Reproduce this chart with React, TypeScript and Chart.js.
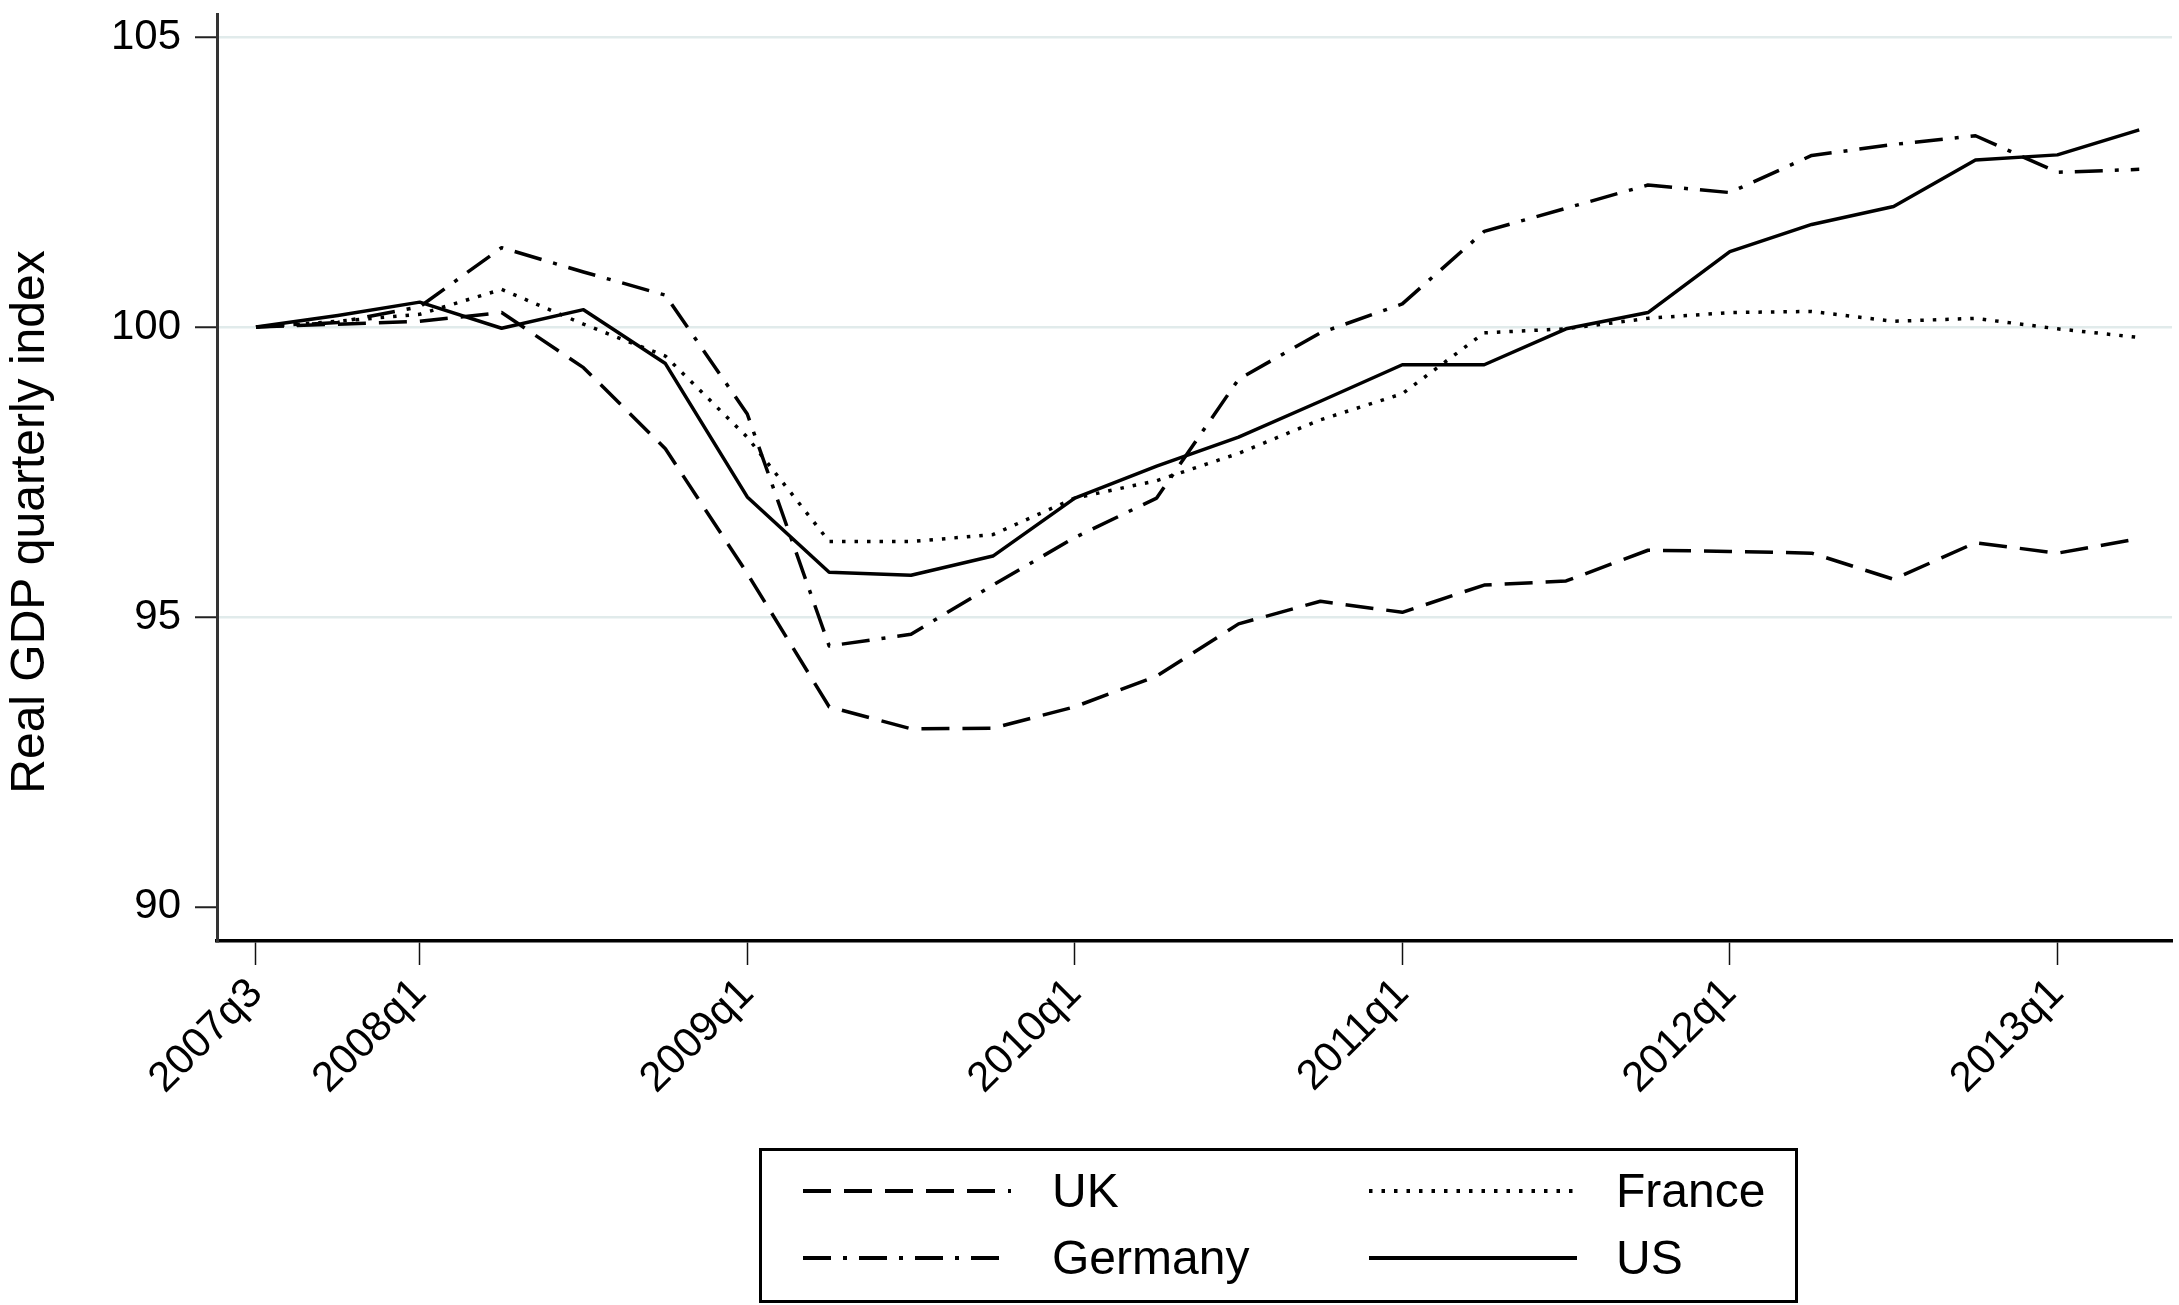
import React, { useEffect, useRef } from 'react';
import { Chart, registerables } from 'chart.js';

Chart.register(...registerables);

// ---------- data ----------
const quarters = [
  '2007q3', '2007q4', '2008q1', '2008q2', '2008q3', '2008q4',
  '2009q1', '2009q2', '2009q3', '2009q4', '2010q1', '2010q2',
  '2010q3', '2010q4', '2011q1', '2011q2', '2011q3', '2011q4',
  '2012q1', '2012q2', '2012q3', '2012q4', '2013q1', '2013q2',
];
const xTickLabels = ['2007q3', '2008q1', '2009q1', '2010q1', '2011q1', '2012q1', '2013q1'];
const yTickValues = [90, 95, 100, 105];

const ukValues = [
  100, 100.05, 100.1, 100.25, 99.3, 97.9,
  95.75, 93.45, 93.07, 93.08, 93.45, 93.98,
  94.88, 95.27, 95.08, 95.55, 95.62, 96.15,
  96.13, 96.1, 95.65, 96.28, 96.1, 96.35,
];
const germanyValues = [
  100, 100.08, 100.35, 101.37, 100.95, 100.55,
  98.5, 94.5, 94.7, 95.55, 96.37, 97.05,
  99.1, 99.9, 100.4, 101.65, 102.05, 102.45,
  102.32, 102.96, 103.15, 103.3, 102.67, 102.72,
];
const franceValues = [
  100, 100.1, 100.22, 100.65, 100.05, 99.5,
  98.1, 96.3, 96.3, 96.42, 97.05, 97.35,
  97.82, 98.4, 98.85, 99.9, 99.97, 100.15,
  100.25, 100.27, 100.1, 100.15, 99.97, 99.82,
];
const usValues = [
  100, 100.2, 100.43, 99.98, 100.3, 99.37,
  97.07, 95.77, 95.72, 96.05, 97.05, 97.6,
  98.1, 98.72, 99.35, 99.35, 99.97, 100.25,
  101.3, 101.77, 102.08, 102.88, 102.97, 103.4,
];

const yAxisTitle = 'Real GDP quarterly index';

// ---------- styles ----------
const FONT = '"Liberation Sans", Arial, Helvetica, sans-serif';
const W = 2179;
const H = 1305;
const AXIS_LEFT = 217;
const AXIS_BOTTOM = 941;
const PLOT_TOP = 14;
const PLOT_RIGHT = 2172;

const DASH_UK = [28, 13];
const DASH_DE = [28, 12, 4, 12];
const DASH_FR = [3.5, 9];
const DASH_US: number[] = [];
const LINE_W = 3.5;

const series = [
  { name: 'UK', values: ukValues, dash: DASH_UK },
  { name: 'Germany', values: germanyValues, dash: DASH_DE },
  { name: 'France', values: franceValues, dash: DASH_FR },
  { name: 'US', values: usValues, dash: DASH_US },
];

const legendLayout = [
  { name: 'UK', sx: 803, tx: 1052, cy: 1191 },
  { name: 'France', sx: 1369, tx: 1616, cy: 1191 },
  { name: 'Germany', sx: 803, tx: 1052, cy: 1258 },
  { name: 'US', sx: 1369, tx: 1616, cy: 1258 },
];

export default function App() {
  const canvasRef = useRef<HTMLCanvasElement | null>(null);

  useEffect(() => {
    const canvas = canvasRef.current;
    if (!canvas) return;
    const chart = new Chart(canvas, {
      type: 'line',
      data: {
        datasets: series.map((s) => ({
          label: s.name,
          data: s.values.map((v, i) => ({ x: i, y: v })),
          borderColor: '#000',
          borderWidth: LINE_W,
          borderDash: s.dash,
          borderCapStyle: 'butt',
          borderJoinStyle: 'round',
          pointRadius: 0,
          tension: 0,
          fill: false,
        })),
      },
      options: {
        responsive: false,
        animation: false,
        devicePixelRatio: 1,
        layout: { padding: { top: PLOT_TOP, right: W - PLOT_RIGHT, left: 0, bottom: 0 } },
        plugins: {
          legend: { display: false },
          tooltip: { enabled: false },
          title: { display: false },
        },
        scales: {
          x: {
            type: 'linear',
            min: -0.476,
            max: 23.4,
            afterBuildTicks: (scale: any) => {
              scale.ticks = xTickLabels.map((l) => ({ value: quarters.indexOf(l) }));
            },
            afterFit: (scale: any) => {
              scale.height = H - AXIS_BOTTOM;
              scale.paddingLeft = 0;
              scale.paddingRight = 0;
            },
            border: { display: true, color: '#000', width: 3.5 },
            grid: {
              drawOnChartArea: false,
              drawTicks: true,
              tickLength: 24,
              tickColor: '#111',
              tickWidth: 1.5,
            },
            ticks: {
              autoSkip: false,
              maxRotation: 45,
              minRotation: 45,
              padding: 4,
              color: '#000',
              font: { family: FONT, size: 42 },
              callback: (v: any) => quarters[Math.round(Number(v))] ?? '',
            },
          },
          y: {
            type: 'linear',
            min: 89.41,
            max: 105.4,
            afterBuildTicks: (scale: any) => {
              scale.ticks = yTickValues.map((v) => ({ value: v }));
            },
            afterFit: (scale: any) => {
              scale.width = AXIS_LEFT;
              scale.paddingTop = 0;
              scale.paddingBottom = 0;
            },
            border: { display: true, color: '#333', width: 3 },
            grid: {
              drawTicks: true,
              tickLength: 22,
              tickColor: '#222',
              tickWidth: 2,
              lineWidth: 2.5,
              color: (ctx: any) =>
                ctx.tick && ctx.tick.value === 90 ? 'rgba(0,0,0,0)' : '#e1ebeb',
            },
            ticks: {
              padding: 14,
              color: '#000',
              font: { family: FONT, size: 42 },
              callback: (v: any) => String(v),
            },
          },
        },
      },
    } as any);
    return () => chart.destroy();
  }, []);

  return (
    <div style={{ position: 'absolute', left: 0, top: 0, width: W, height: H, background: '#fff', overflow: 'hidden' }}>
      <canvas ref={canvasRef} width={W} height={H} style={{ position: 'absolute', left: 0, top: 0, width: W, height: H }} />
      <div
        style={{
          position: 'absolute',
          left: 28 - 400,
          top: 522 - 30,
          width: 800,
          height: 60,
          lineHeight: '60px',
          textAlign: 'center',
          transform: 'rotate(-90deg)',
          fontFamily: FONT,
          fontSize: 48,
          color: '#000',
          whiteSpace: 'nowrap',
        }}
      >
        {yAxisTitle}
      </div>
      <div
        style={{
          position: 'absolute',
          left: 759,
          top: 1148,
          width: 1039,
          height: 155,
          border: '3px solid #000',
          boxSizing: 'border-box',
        }}
      />
      {legendLayout.map((item) => {
        const s = series.find((d) => d.name === item.name)!;
        return (
          <React.Fragment key={item.name}>
            <svg
              width={210}
              height={12}
              style={{ position: 'absolute', left: item.sx, top: item.cy - 6 }}
            >
              <line
                x1={0}
                y1={6}
                x2={208}
                y2={6}
                stroke="#000"
                strokeWidth={LINE_W + 0.5}
                strokeDasharray={s.dash.length ? s.dash.join(' ') : undefined}
              />
            </svg>
            <div
              style={{
                position: 'absolute',
                left: item.tx,
                top: item.cy - 30,
                height: 60,
                lineHeight: '60px',
                fontFamily: FONT,
                fontSize: 48,
                color: '#000',
                whiteSpace: 'nowrap',
              }}
            >
              {item.name}
            </div>
          </React.Fragment>
        );
      })}
    </div>
  );
}
